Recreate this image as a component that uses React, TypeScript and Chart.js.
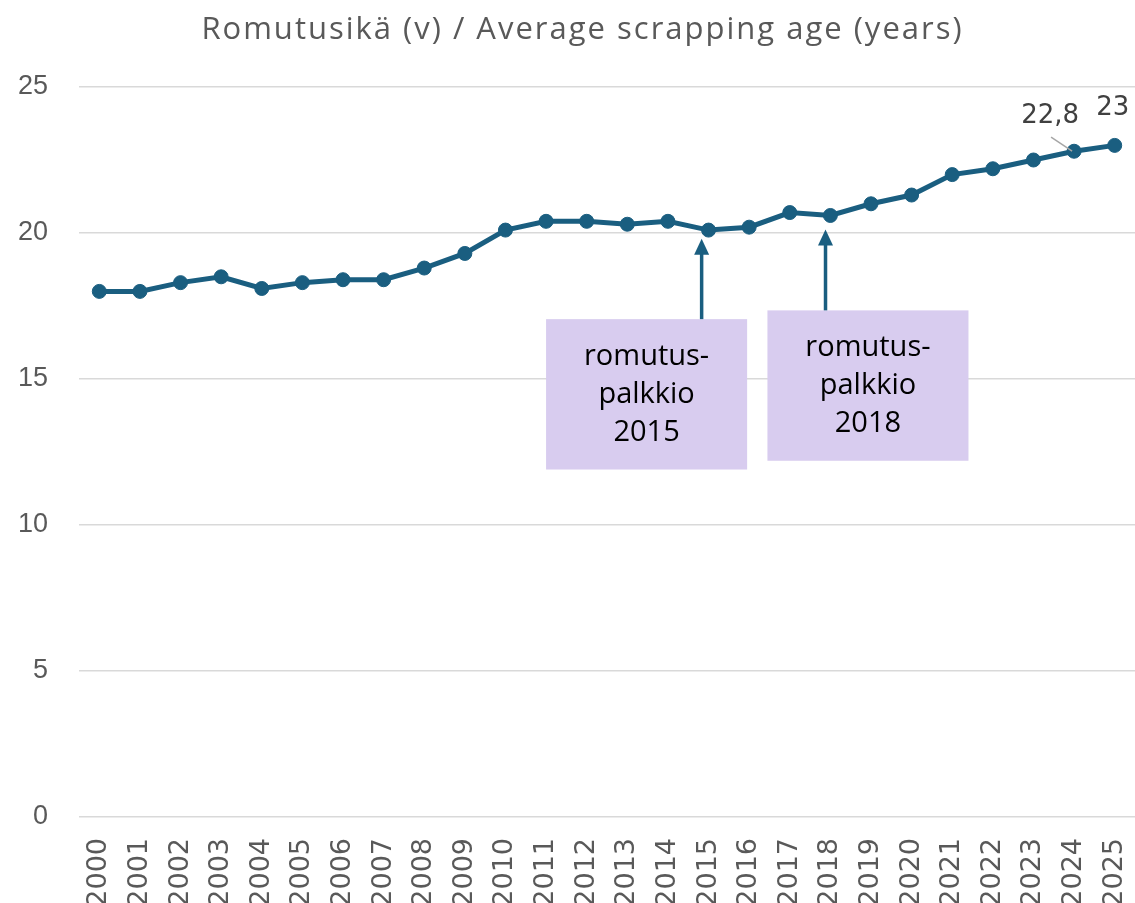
import React, { useEffect, useRef } from "react";
import { Chart, registerables } from "chart.js";

Chart.register(...registerables);

const years: string[] = [
  "2000", "2001", "2002", "2003", "2004", "2005", "2006", "2007", "2008", "2009",
  "2010", "2011", "2012", "2013", "2014", "2015", "2016", "2017", "2018", "2019",
  "2020", "2021", "2022", "2023", "2024", "2025",
];

const scrappingAge: number[] = [
  18.0, 18.0, 18.3, 18.5, 18.1, 18.3, 18.4, 18.4, 18.8, 19.3,
  20.1, 20.4, 20.4, 20.3, 20.4, 20.1, 20.2, 20.7, 20.6, 21.0,
  21.3, 22.0, 22.2, 22.5, 22.8, 23.0,
];

const yTicks: number[] = [0, 5, 10, 15, 20, 25];

const titleText = "Romutusikä (v) / Average scrapping age (years)";

// data labels shown on the last two points
const labelledIndexes: number[] = [24, 25];
const labelTexts: string[] = ["22,8", "23"];

// annotation boxes (text lines) and the year each arrow points to
const annotationLines: string[][] = [
  ["romutus-", "palkkio", "2015"],
  ["romutus-", "palkkio", "2018"],
];
const annotationYears: string[] = ["2015", "2018"];

const LINE_COLOR = "#1A5E80";
const TICK_COLOR = "#595959";

// layout of annotations expressed in axis units (category index / value)
const annotationLayout = [
  { left: 11.0, right: 15.95, top: 17.05, bottom: 11.9, arrowDx: -0.17, tip: 19.8, textCenter: 14.45 },
  { left: 16.45, right: 21.4, top: 17.35, bottom: 12.2, arrowDx: -0.12, tip: 20.12, textCenter: 14.78 },
];

const fullWidthPlugin = {
  id: "fullWidth",
  afterLayout(chart: any) {
    const ca = chart.chartArea;
    const target = chart.width;
    ca.right = target;
    ca.width = ca.right - ca.left;
    const xs = chart.scales.x;
    xs.right = target;
    xs.width = xs.right - xs.left;
    xs.configure();
  },
};

const titlePlugin = {
  id: "customTitle",
  afterDraw(chart: any) {
    const { ctx, width } = chart;
    ctx.save();
    ctx.font = "31px 'Open Sans'";
    try {
      (ctx as any).letterSpacing = "2px";
    } catch (e) {}
    ctx.fillStyle = TICK_COLOR;
    ctx.textAlign = "center";
    ctx.textBaseline = "middle";
    ctx.fillText(titleText, width / 2 + 15, 30);
    ctx.restore();
  },
};

const annotationPlugin = {
  id: "annotationsCustom",
  afterDatasetsDraw(chart: any) {
    const { ctx, scales } = chart;
    const x = scales.x;
    const y = scales.y;
    ctx.save();
    annotationLayout.forEach((a, i) => {
      const l = x.getPixelForValue(a.left);
      const r = x.getPixelForValue(a.right);
      const t = y.getPixelForValue(a.top);
      const b = y.getPixelForValue(a.bottom);
      ctx.fillStyle = "#D8CCEF";
      ctx.fillRect(l, t, r - l, b - t);
      // arrow
      const idx = years.indexOf(annotationYears[i]);
      const ax = x.getPixelForValue(idx + a.arrowDx);
      const tipY = y.getPixelForValue(a.tip);
      const headH = 16;
      const headW = 15;
      ctx.strokeStyle = LINE_COLOR;
      ctx.lineWidth = 3.5;
      ctx.beginPath();
      ctx.moveTo(ax, t);
      ctx.lineTo(ax, tipY + headH - 2);
      ctx.stroke();
      ctx.fillStyle = LINE_COLOR;
      ctx.beginPath();
      ctx.moveTo(ax, tipY);
      ctx.lineTo(ax - headW / 2, tipY + headH);
      ctx.lineTo(ax + headW / 2, tipY + headH);
      ctx.closePath();
      ctx.fill();
      // text
      ctx.fillStyle = "#000000";
      ctx.font = "29px 'Open Sans'";
      ctx.textAlign = "center";
      ctx.textBaseline = "middle";
      const cx = (l + r) / 2;
      const cy = y.getPixelForValue(a.textCenter);
      const lh = 38;
      annotationLines[i].forEach((line, k) => {
        ctx.fillText(line, cx, cy + (k - (annotationLines[i].length - 1) / 2) * lh);
      });
    });

    // data labels
    const meta = chart.getDatasetMeta(0);
    ctx.font = "26px 'DejaVu Sans'";
    ctx.fillStyle = "#404040";
    ctx.textAlign = "center";
    ctx.textBaseline = "middle";
    labelledIndexes.forEach((di, k) => {
      const pt = meta.data[di];
      if (!pt) return;
      if (k === 0) {
        ctx.strokeStyle = "#A6A6A6";
        ctx.lineWidth = 1.5;
        ctx.beginPath();
        ctx.moveTo(pt.x - 23, pt.y - 14);
        ctx.lineTo(pt.x - 2, pt.y);
        ctx.stroke();
        ctx.fillText(labelTexts[k], pt.x - 24, pt.y - 35);
      } else {
        ctx.fillText(labelTexts[k], pt.x - 2, pt.y - 37);
      }
    });
    ctx.restore();
  },
};

export default function App() {
  const canvasRef = useRef<HTMLCanvasElement | null>(null);

  useEffect(() => {
    document.body.style.margin = "0";
    const canvas = canvasRef.current;
    if (!canvas) return;
    const chart = new Chart(canvas, {
      type: "line",
      data: {
        labels: years,
        datasets: [
          {
            data: scrappingAge,
            borderColor: LINE_COLOR,
            backgroundColor: LINE_COLOR,
            borderWidth: 5,
            pointRadius: 7,
            pointBorderWidth: 1,
            pointBackgroundColor: LINE_COLOR,
            pointBorderColor: LINE_COLOR,
            tension: 0,
            clip: false,
          },
        ],
      },
      options: {
        animation: false,
        responsive: false,
        maintainAspectRatio: false,
        layout: { padding: { left: 0, right: 0, top: 87, bottom: 0 } },
        plugins: {
          legend: { display: false },
          tooltip: { enabled: false },
          title: { display: false },
        },
        scales: {
          x: {
            offset: true,
            grid: { display: false, drawTicks: false },
            border: { display: false },
            ticks: {
              color: TICK_COLOR,
              font: { family: "'DejaVu Sans'", size: 27 },
              minRotation: 90,
              maxRotation: 90,
              autoSkip: false,
              padding: 21,
            },
            afterFit(scale: any) {
              scale.height = 86;
            },
          },
          y: {
            min: 0,
            max: 25,
            afterBuildTicks(scale: any) {
              scale.ticks = yTicks.map((v) => ({ value: v }));
            },
            grid: { color: "#D9D9D9", lineWidth: 1.5, drawTicks: false },
            border: { display: false },
            ticks: {
              color: TICK_COLOR,
              font: { family: "'Liberation Sans'", size: 27 },
              padding: 31,
            },
            afterFit(scale: any) {
              scale.width = 79;
            },
          },
        },
      },
      plugins: [fullWidthPlugin, annotationPlugin, titlePlugin],
    });
    return () => chart.destroy();
  }, []);

  return (
    <div style={{ width: 1135, height: 903 }}>
      <canvas ref={canvasRef} width={1135} height={903} style={{ display: "block" }} />
    </div>
  );
}
